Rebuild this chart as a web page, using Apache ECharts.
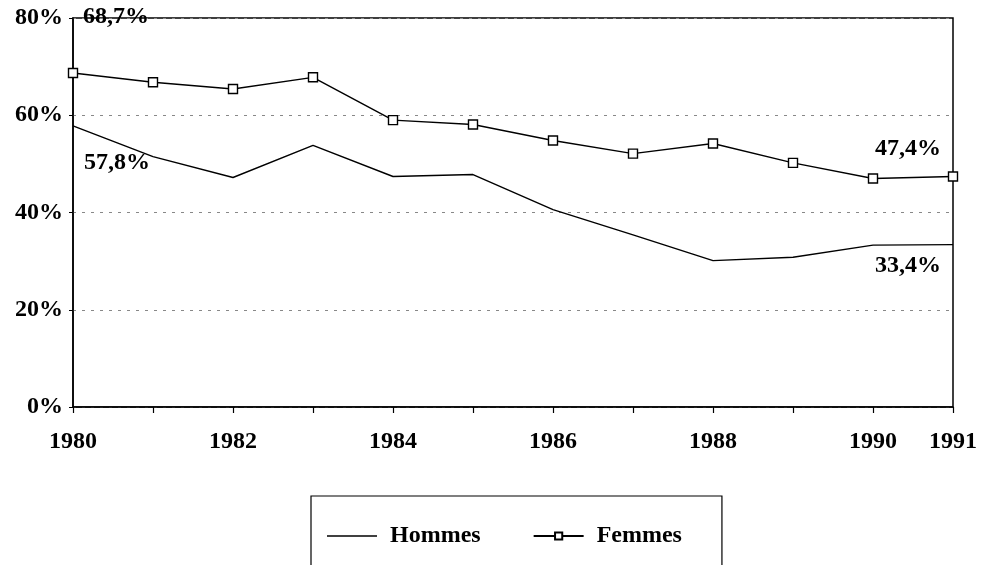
<!DOCTYPE html>
<html>
<head>
<meta charset="utf-8">
<script src="https://cdn.jsdelivr.net/npm/echarts@6/dist/echarts.min.js"></script>
<style>html,body{margin:0;padding:0;background:#fff;}#c{width:984px;height:565px;}</style>
</head>
<body>
<div id="c"></div>
<script>
var years = ['1980','1981','1982','1983','1984','1985','1986','1987','1988','1989','1990','1991'];
var hommes = [57.8, 51.5, 47.2, 53.8, 47.4, 47.8, 40.6, 35.4, 30.1, 30.8, 33.3, 33.4];
var femmes = [68.7, 66.8, 65.4, 67.8, 59.0, 58.1, 54.8, 52.1, 54.2, 50.2, 47.0, 47.4];
var yTicks = [0, 20, 40, 60, 80];
var seriesNames = ['Hommes', 'Femmes'];

var FONT = '"Liberation Serif", "Times New Roman", serif';
var FS = 24;
function fmt(v){ return String(v).replace('.', ',') + '%'; }
var lblStyle = {show:true, fontFamily:FONT, fontWeight:'bold', fontSize:FS, color:'#000'};

var hData = hommes.map(function(v,i){
  if (i === 0 || i === hommes.length-1) {
    return {value:v, symbol:'circle', symbolSize:1, itemStyle:{color:'rgba(0,0,0,0)'},
      label:Object.assign({}, lblStyle, {position:'bottom', offset: i===0 ? [44,19] : [-45,4], formatter: fmt(v)})};
  }
  return v;
});
var fData = femmes.map(function(v,i){
  if (i === 0 || i === femmes.length-1) {
    return {value:v, label:Object.assign({}, lblStyle, {position:'top', offset: i===0 ? [43,-34] : [-45,-6], formatter: fmt(v)})};
  }
  return v;
});

var chart = echarts.init(document.getElementById('c'), null, {renderer:'canvas'});
chart.setOption({
  animation:false,
  backgroundColor:'#fff',
  grid:{left:73, right:31, top:18, bottom:158, show:true, borderColor:'#000', borderWidth:1.5, backgroundColor:'transparent'},
  xAxis:{
    type:'category', data:years, boundaryGap:false,
    axisLine:{lineStyle:{color:'#000', width:1.5}},
    axisTick:{show:true, interval:0, length:6, lineStyle:{color:'#000', width:1.2}},
    axisLabel:{interval:function(i){return i%2===0 || i===years.length-1;}, margin:23,
      fontFamily:FONT, fontWeight:'bold', fontSize:FS, color:'#000'},
    splitLine:{show:false}
  },
  yAxis:{
    type:'value', min:yTicks[0], max:yTicks[yTicks.length-1], interval:20,
    axisLine:{show:true, lineStyle:{color:'#000', width:1.5}},
    axisTick:{show:true, length:4, lineStyle:{color:'#000'}},
    axisLabel:{formatter:'{value}%', margin:10, fontFamily:FONT, fontWeight:'bold', fontSize:FS, color:'#000'},
    splitLine:{show:true, lineStyle:{color:'#888', type:[3,6], width:1}}
  },
  legend:{
    data:[
      {name:seriesNames[0], icon:'path://M0,0H50V1.4H0Z'},
      {name:seriesNames[1]}
    ],
    left:311, top:496,
    padding:[28,40,40,16], itemGap:52, itemWidth:50, itemHeight:9,
    borderColor:'#000', borderWidth:1.2,
    textStyle:{fontFamily:FONT, fontWeight:'bold', fontSize:FS, color:'#000', padding:[0,0,0,8]}
  },
  series:[
    {name:seriesNames[0], type:'line', data:hData, symbol:'none',
      lineStyle:{color:'#000', width:1.4}, itemStyle:{color:'#000'}},
    {name:seriesNames[1], type:'line', data:fData, symbol:'rect', symbolSize:9,
      lineStyle:{color:'#000', width:1.4},
      itemStyle:{color:'#fff', borderColor:'#000', borderWidth:1.4}}
  ]
});
</script>
</body>
</html>
